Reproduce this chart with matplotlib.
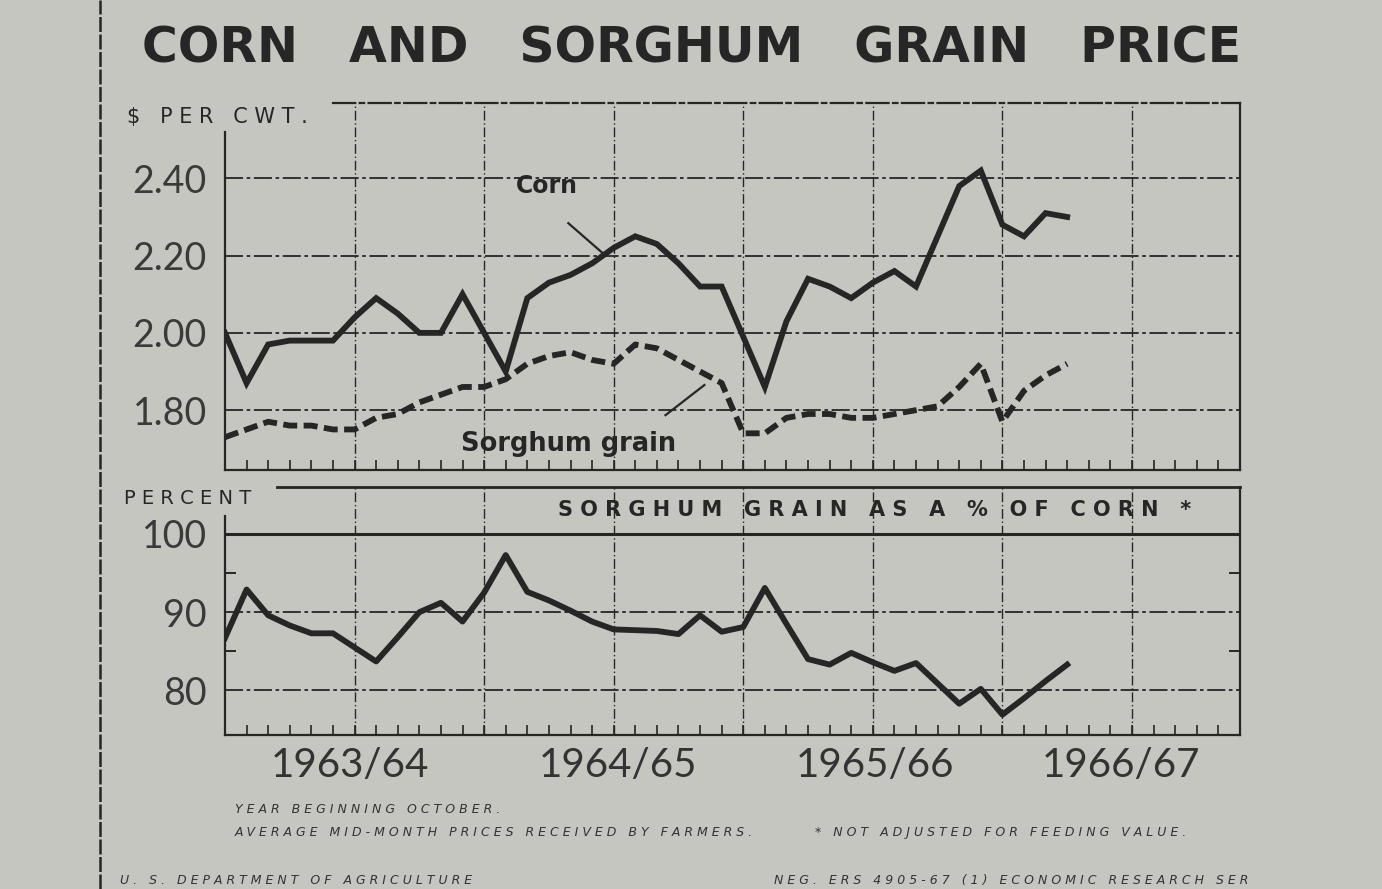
import matplotlib
matplotlib.use("Agg")
import matplotlib.pyplot as plt
import numpy as np

# months from October 1963 (index 0) to January 1967 (index 39)
months = np.arange(40)

corn = [2.00, 1.87, 1.97, 1.98, 1.98, 1.98, 2.04, 2.09, 2.05, 2.00,
        2.00, 2.10, 2.00, 1.90, 2.09, 2.13, 2.15, 2.18, 2.22, 2.25,
        2.23, 2.18, 2.12, 2.12, 1.99, 1.86, 2.03, 2.14, 2.12, 2.09,
        2.13, 2.16, 2.12, 2.25, 2.38, 2.42, 2.28, 2.25, 2.31, 2.30]

sorghum = [1.73, 1.75, 1.77, 1.76, 1.76, 1.75, 1.75, 1.78, 1.79, 1.82,
           1.84, 1.86, 1.86, 1.88, 1.92, 1.94, 1.95, 1.93, 1.92, 1.97,
           1.96, 1.93, 1.90, 1.87, 1.74, 1.74, 1.78, 1.79, 1.79, 1.78,
           1.78, 1.79, 1.80, 1.81, 1.86, 1.92, 1.77, 1.85, 1.89, 1.92]

percent = [86.7, 92.9, 89.6, 88.3, 87.3, 87.3, 85.5, 83.7, 86.8, 90.0,
           91.2, 88.8, 92.5, 97.3, 92.6, 91.5, 90.2, 88.8, 87.8, 87.7,
           87.6, 87.2, 89.6, 87.5, 88.1, 93.1, 88.5, 84.0, 83.3, 84.8,
           83.6, 82.5, 83.5, 80.9, 78.3, 80.2, 76.9, 79.0, 81.2, 83.3]

price_ticks = [1.80, 2.00, 2.20, 2.40]
price_labels = ["1.80", "2.00", "2.20", "2.40"]
pct_ticks = [80, 90, 100]
year_labels = ["1963/64", "1964/65", "1965/66", "1966/67"]

paper = "#c6c6c1"
ink = "#262626"
plt.rcParams["font.family"] = ["Lato", "DejaVu Sans"]

def spaced(s, gap=" "):
    # old typewriter-ish letter spacing
    return "   ".join(gap.join(w) for w in s.split(" "))

fig = plt.figure(figsize=(13.82, 8.89), dpi=100, facecolor=paper)

def frame(ax, ylo, yhi, top_from, left_to):
    ax.set_facecolor(paper)
    ax.set_xlim(0, 47)
    ax.set_ylim(ylo, yhi)
    for s in ax.spines.values():
        s.set_color(ink)
        s.set_linewidth(1.6)
    # the upper left corner is left open for the unit label
    ax.spines["top"].set_bounds(top_from, 47)
    ax.spines["left"].set_bounds(ylo, left_to)
    for xv in range(6, 47, 6):
        ax.axvline(xv, color=ink, lw=1.0, ls=(0, (7, 2, 1, 2)), zorder=1)
    ax.set_xticks(np.arange(1, 47))
    ax.tick_params(axis="x", direction="in", length=7, width=1.2, color=ink,
                   labelbottom=False)

# ---- top panel: prices
ax1 = fig.add_axes([0.1628, 0.4713, 0.7344, 0.4128])
frame(ax1, 1.645, 2.595, 5.0, 2.52)
for yv in price_ticks:
    ax1.axhline(yv, color=ink, lw=1.3, ls=(0, (10, 2, 2, 2)), zorder=1)
ax1.spines["top"].set_linestyle((0, (10, 2, 2, 2)))
ax1.set_yticks(price_ticks)
ax1.set_yticklabels(price_labels)
ax1.tick_params(axis="y", length=0, pad=13, labelsize=27, labelcolor="#3a3a3a")

ax1.plot(months, corn, color=ink, lw=4.2, solid_joinstyle="miter", zorder=3)
ax1.plot(months, sorghum, color=ink, lw=4.2, ls=(0, (2.4, 1.1)), zorder=3)

ax1.text(14.9, 2.38, "Corn", fontsize=17, fontweight="bold", color=ink,
         ha="center", va="center", family=["DejaVu Sans"])
ax1.plot([15.9, 17.5], [2.284, 2.206], color=ink, lw=1.6)
ax1.text(15.9, 1.712, "Sorghum grain", fontsize=18.5, fontweight="bold", color=ink,
         ha="center", va="center", family=["DejaVu Sans"])
ax1.plot([20.4, 22.2], [1.787, 1.865], color=ink, lw=1.6)

# ---- bottom panel: ratio
ax2 = fig.add_axes([0.1628, 0.1732, 0.7344, 0.279])
frame(ax2, 74.3, 106, 2.4, 102.3)
ax2.spines["top"].set_linewidth(2.0)
for yv in [80, 90]:
    ax2.axhline(yv, color=ink, lw=1.3, ls=(0, (10, 2, 2, 2)), zorder=1)
ax2.axhline(100, color=ink, lw=2.2, zorder=2)
ax2.set_yticks(pct_ticks)
ax2.set_yticks([85, 95], minor=True)
ax2.tick_params(axis="y", which="major", length=0, pad=13, labelsize=27,
                labelcolor="#3a3a3a")
ax2.tick_params(axis="y", which="minor", direction="in", length=8, width=1.4,
                color=ink, right=True)
ax2.tick_params(axis="x", top=False)
ax2.plot(months, percent, color=ink, lw=4.2, zorder=3)
ax2.text(30.1, 103.1, spaced("SORGHUM GRAIN AS A % OF CORN *"),
         fontsize=15, fontweight="bold", color=ink, ha="center", va="center",
         family=["DejaVu Sans"])

year_x = [5.8, 18.2, 30.1, 41.5]
for xv, lab in zip(year_x, year_labels):
    ax2.text(xv, 72.8, lab, fontsize=29, color="#333333",
             ha="center", va="top", clip_on=False)

# ---- title and texts
fig.text(0.103, 0.945, "CORN   AND   SORGHUM   GRAIN   PRICE", fontsize=35.2,
         fontweight="bold", color=ink, ha="left", va="center",
         family=["DejaVu Sans"])
fig.text(0.092, 0.868, spaced("$ PER CWT."), fontsize=15, color=ink,
         ha="left", va="center", family=["DejaVu Sans"])
fig.text(0.090, 0.439, spaced("PERCENT"), fontsize=14, color=ink,
         ha="left", va="center", family=["DejaVu Sans"])

foot = dict(fontsize=9, color="#333333", style="italic", family=["DejaVu Sans"],
            va="center")
fig.text(0.170, 0.089, spaced("YEAR BEGINNING OCTOBER."), **foot)
fig.text(0.170, 0.064, spaced("AVERAGE MID-MONTH PRICES RECEIVED BY FARMERS."), **foot)
fig.text(0.590, 0.064, spaced("* NOT ADJUSTED FOR FEEDING VALUE."), **foot)
fig.text(0.087, 0.010, spaced("U. S. DEPARTMENT OF AGRICULTURE"), **foot)
fig.text(0.560, 0.010, spaced("NEG. ERS 4905-67 (1) ECONOMIC RESEARCH SER"), **foot)

# page edge rule at the left
fig.add_artist(plt.Line2D([0.072, 0.072], [0, 1], color=ink, lw=1.8,
                          ls=(0, (6, 1))))

fig.savefig("out.png", dpi=100, facecolor=paper)
